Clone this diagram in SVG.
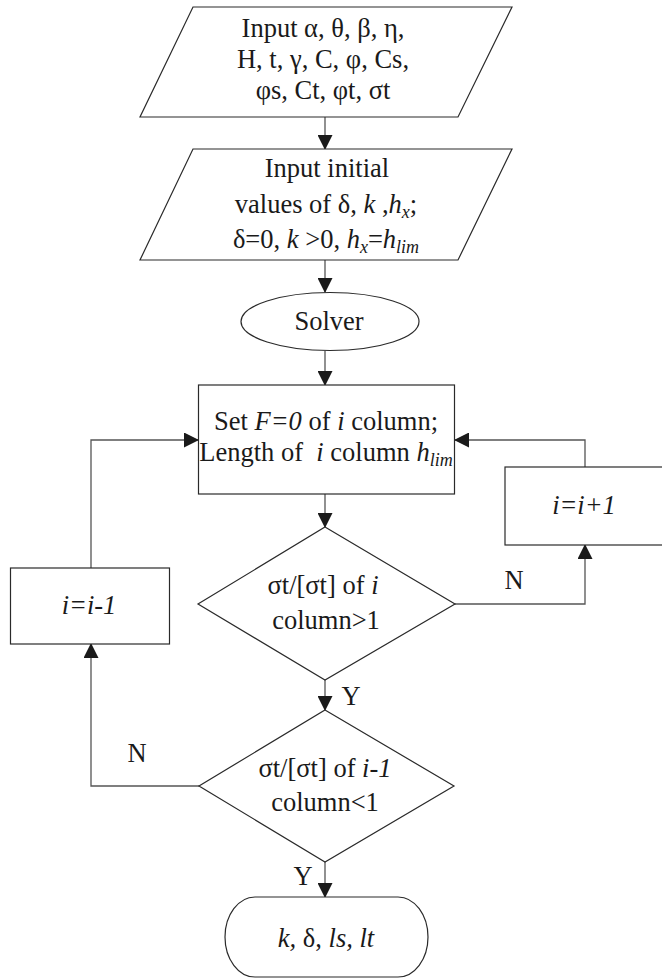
<svg xmlns="http://www.w3.org/2000/svg" width="662" height="979" viewBox="0 0 662 979">
<style>
.node{fill:#fff;stroke:#2a2a2a;stroke-width:1.2}
.conn{fill:none;stroke:#555;stroke-width:1.3}
text{font-family:"Liberation Serif","Times New Roman",serif;font-size:26.5px;fill:#1a1a1a}
.c{text-anchor:middle}
.it{font-style:italic}
.sub{font-size:18px;font-style:italic}
</style>
<defs>
<marker id="ah" markerUnits="userSpaceOnUse" markerWidth="15" markerHeight="15" refX="14" refY="7.5" orient="auto" viewBox="0 0 15 15">
<path d="M0,0 L15,7.5 L0,15 z" fill="#1a1a1a"/>
</marker>
</defs>
<rect width="662" height="979" fill="#fff"/>
<g id="connectors">
<line class="conn" x1="325" y1="117" x2="325" y2="149" marker-end="url(#ah)"/>
<line class="conn" x1="325" y1="260" x2="325" y2="292" marker-end="url(#ah)"/>
<line class="conn" x1="325" y1="351" x2="325" y2="385" marker-end="url(#ah)"/>
<line class="conn" x1="325" y1="494" x2="325" y2="527" marker-end="url(#ah)"/>
<line class="conn" x1="325" y1="680" x2="325" y2="710" marker-end="url(#ah)"/>
<line class="conn" x1="325" y1="862" x2="325" y2="897" marker-end="url(#ah)"/>
<polyline class="conn" points="455,604 585,604 585,545" marker-end="url(#ah)"/>
<polyline class="conn" points="585,467 585,440 455,440" marker-end="url(#ah)"/>
<polyline class="conn" points="199,786 91,786 91,644" marker-end="url(#ah)"/>
<polyline class="conn" points="91,568 91,440 198,440" marker-end="url(#ah)"/>
<text x="514" y="589" class="c">N</text>
<text x="351" y="705" class="c">Y</text>
<text x="137" y="762" class="c">N</text>
<text x="303" y="885" class="c">Y</text>
</g>
<g id="input1">
<polygon class="node" points="193,7 512,7 458,117 140,117"/>
<text class="c" x="323" y="37">Input α, θ, β, η,</text>
<text class="c" x="323" y="68">H, t, γ, C, φ, Cs,</text>
<text class="c" x="323" y="99">φs, Ct, φt, σt</text>
</g>
<g id="input2">
<polygon class="node" points="193,149 512,149 458,260 140,260"/>
<text class="c" x="327" y="177">Input initial</text>
<text class="c" x="326" y="213">values of δ, <tspan class="it">k</tspan> ,<tspan class="it">h</tspan><tspan class="sub" dy="5">x</tspan><tspan dy="-5">;</tspan></text>
<text class="c" x="326" y="248">δ=0, <tspan class="it">k</tspan> &gt;0, <tspan class="it">h</tspan><tspan class="sub" dy="5">x</tspan><tspan dy="-5">=</tspan><tspan class="it">h</tspan><tspan class="sub" dy="5">lim</tspan></text>
</g>
<g id="solver">
<ellipse class="node" cx="330" cy="321.5" rx="89" ry="29"/>
<text class="c" x="329" y="330">Solver</text>
</g>
<g id="setF">
<rect class="node" x="198.5" y="385" width="256" height="109"/>
<text class="c" x="326" y="430">Set <tspan class="it">F=0</tspan> of <tspan class="it">i</tspan> column;</text>
<text class="c" x="326" y="461" style="white-space:pre">Length of  <tspan class="it">i</tspan> column <tspan class="it">h</tspan><tspan class="sub" dy="5">lim</tspan></text>
</g>
<g id="incr">
<rect class="node" x="505" y="467" width="160" height="78"/>
<text class="c it" x="584" y="514">i=i+1</text>
</g>
<g id="decr">
<rect class="node" x="10.5" y="568" width="159" height="76"/>
<text class="c it" x="89" y="614">i=i-1</text>
</g>
<g id="check1">
<polygon class="node" points="325,527 455,604 325,680 198,604"/>
<text class="c" x="323" y="594">σt/[σt] of <tspan class="it">i</tspan></text>
<text class="c" x="326" y="629">column&gt;1</text>
</g>
<g id="check2">
<polygon class="node" points="325,710 454,786 325,862 199,786"/>
<text class="c" x="325" y="777">σt/[σt] of <tspan class="it">i-1</tspan></text>
<text class="c" x="325" y="811">column&lt;1</text>
</g>
<g id="result">
<rect class="node" x="225" y="897" width="203" height="80" rx="30" ry="40"/>
<text class="c" x="326" y="947"><tspan class="it">k,</tspan> δ, <tspan class="it">ls, lt</tspan></text>
</g>
</svg>
